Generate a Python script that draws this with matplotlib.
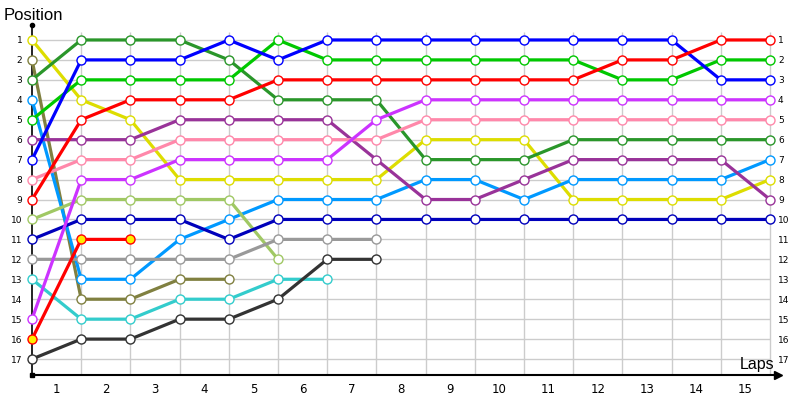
import matplotlib.pyplot as plt

# positions per lap (lap 0 = start), one list per car
yellow     = [1, 4, 5, 8, 8, 8, 8, 8, 6, 6, 6, 9, 9, 9, 9, 8]
olive      = [2, 14, 14, 13, 13]
dark_green = [3, 1, 1, 1, 2, 4, 4, 4, 7, 7, 7, 6, 6, 6, 6, 6]
light_blue = [4, 13, 13, 11, 10, 9, 9, 9, 8, 8, 9, 8, 8, 8, 8, 7]
green      = [5, 3, 3, 3, 3, 1, 2, 2, 2, 2, 2, 2, 3, 3, 2, 2]
purple     = [6, 6, 6, 5, 5, 5, 5, 7, 9, 9, 8, 7, 7, 7, 7, 9]
blue       = [7, 2, 2, 2, 1, 2, 1, 1, 1, 1, 1, 1, 1, 1, 3, 3]
pink       = [8, 7, 7, 6, 6, 6, 6, 6, 5, 5, 5, 5, 5, 5, 5, 5]
red        = [9, 5, 4, 4, 4, 3, 3, 3, 3, 3, 3, 3, 2, 2, 1, 1]
lime       = [10, 9, 9, 9, 9, 12]
dark_blue  = [11, 10, 10, 10, 11, 10, 10, 10, 10, 10, 10, 10, 10, 10, 10, 10]
gray       = [12, 12, 12, 12, 12, 11, 11, 11]
teal       = [13, 15, 15, 14, 14, 13, 13]
violet     = [15, 8, 8, 7, 7, 7, 7, 5, 4, 4, 4, 4, 4, 4, 4, 4]
red_out    = [16, 11, 11]
dark_gray  = [17, 16, 16, 15, 15, 14, 12, 12]

lap_labels = [str(i) for i in range(1, 16)]
positions = list(range(1, 18))

cars = [
    (yellow, '#dddd00', 'white'),
    (olive, '#808040', 'white'),
    (dark_green, '#2a962a', 'white'),
    (light_blue, '#0099ff', 'white'),
    (green, '#00c800', 'white'),
    (purple, '#993399', 'white'),
    (blue, '#0000ff', 'white'),
    (pink, '#ff88aa', 'white'),
    (red, '#ff0000', 'white'),
    (lime, '#a0c864', 'white'),
    (dark_blue, '#0000bb', 'white'),
    (gray, '#999999', 'white'),
    (teal, '#33cccc', 'white'),
    (violet, '#cc33ff', 'white'),
    (red_out, '#ff0000', '#ffee00'),
    (dark_gray, '#333333', 'white'),
]

n_laps = 15
fig = plt.figure(figsize=(8, 4), dpi=100)
ax = fig.add_axes([32 / 800, 25 / 400, 746 / 800, 350 / 400])
xmax = n_laps * 746 / 738
ax.set_xlim(0, xmax)
ax.set_ylim(17.8, 0.25)

# grid
ax.hlines(positions, 0, n_laps, color='#cccccc', lw=1, zorder=1)
ax.vlines(range(1, n_laps + 1), 0.62, 17.8, color='#cccccc', lw=1, zorder=1)

for i, (pos, col, face) in enumerate(cars):
    laps = list(range(len(pos)))
    ax.plot(laps, pos, color=col, lw=2.3, marker='o', ms=6.5,
            mfc=face, mec=col, mew=1, zorder=3 + i, clip_on=False)

for s in ['top', 'right']:
    ax.spines[s].set_visible(False)
ax.spines['left'].set_linewidth(1.2)
ax.spines['bottom'].set_linewidth(1.5)
ax.plot([0], [0.25], marker='o', ms=3, color='black', clip_on=False)
ax.plot([0], [17.8], marker='s', ms=2.5, color='black', clip_on=False)
ax.plot([xmax], [17.8], marker='>', ms=6, color='black', clip_on=False)

ax.set_yticks(positions)
ax.set_yticklabels([str(p) for p in positions], fontsize=6.5)
ax.tick_params(axis='y', length=0, pad=7)
ax.set_xticks([i + 0.5 for i in range(n_laps)])
ax.set_xticklabels(lap_labels, fontsize=8.5)
ax.tick_params(axis='x', length=0, pad=6)

ax2 = ax.twinx()
ax2.set_ylim(17.8, 0.25)
ax2.set_yticks(positions)
ax2.set_yticklabels([str(p) for p in positions], fontsize=6.5)
ax2.tick_params(axis='y', length=0, pad=0)
for s in ax2.spines.values():
    s.set_visible(False)

fig.text(4 / 800, 1 - 16 / 400, 'Position', fontsize=12, family='Liberation Sans',
         va='center', ha='left')
fig.text(774 / 800, 1 - 369 / 400, 'Laps', fontsize=11.5, family='Liberation Sans',
         va='baseline', ha='right')

fig.savefig('out.png', dpi=100)
